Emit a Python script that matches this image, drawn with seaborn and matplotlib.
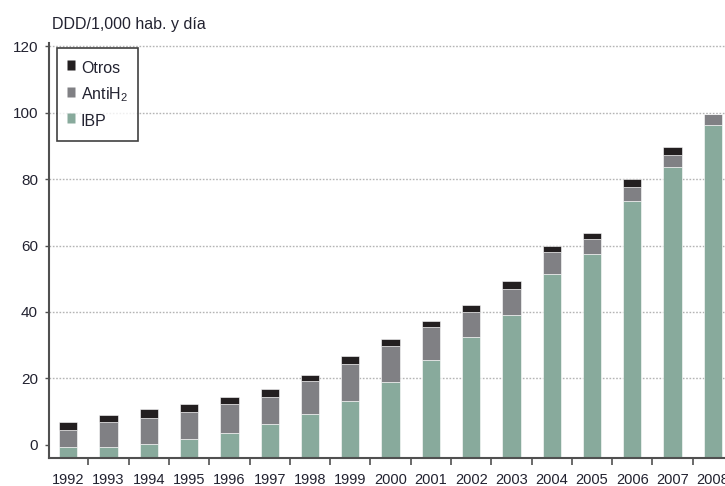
import matplotlib
matplotlib.use("Agg")
import matplotlib.pyplot as plt
from matplotlib.lines import Line2D
from matplotlib.ticker import FixedLocator
import seaborn as sns
import pandas as pd
import numpy as np

# ---- data (segment heights per year) ----
years = [str(y) for y in range(1992, 2009)]
ibp = [3.2, 3.2, 4.2, 5.6, 7.4, 10.2, 13.4, 17.2, 22.8, 29.4, 36.3, 43.2,
       55.3, 61.3, 77.5, 87.8, 100.2]
antih2 = [5.2, 7.5, 7.9, 8.4, 8.9, 8.3, 9.9, 11.2, 11.0, 10.1, 7.8, 7.8,
          6.8, 4.6, 4.1, 3.6, 3.3]
otros = [2.3, 2.4, 2.8, 2.3, 2.2, 2.4, 1.8, 2.2, 1.9, 1.9, 1.9, 2.3,
         1.9, 1.9, 2.5, 2.4, 0.0]
y_ticks = [0, 20, 40, 60, 80, 100, 120]
series_labels = ["Otros", r"AntiH$_\mathregular{2}$", "IBP"]

# ---- style ----
sns.set_style("white")
plt.rcParams["font.family"] = ["Liberation Sans", "DejaVu Sans"]
plt.rcParams["mathtext.fontset"] = "custom"
plt.rcParams["mathtext.rm"] = "Liberation Sans"
plt.rcParams["mathtext.it"] = "Liberation Sans:italic"
plt.rcParams["mathtext.bf"] = "Liberation Sans:bold"

C_IBP = "#88aa9c"
C_ANTI = "#808084"
C_OTROS = "#231f20"
TXT = "#222230"
SPINE = "#505050"
YMIN, YMAX = -4.0, 121.0
BAR_W = 0.454

df = pd.DataFrame({"year": years, "IBP": ibp, "AntiH2": antih2, "Otros": otros})
df["b_ibp"] = YMIN
df["b_anti"] = YMIN + df["IBP"]
df["b_otros"] = df["b_anti"] + df["AntiH2"]

fig = plt.figure(figsize=(7.25, 4.86), dpi=100)
ax = fig.add_axes([49 / 725, 28 / 486, 676 / 725, 415 / 486])

common = dict(x="year", order=years, errorbar=None, width=BAR_W, ax=ax,
              edgecolor="white", linewidth=0.4)
sns.barplot(data=df, y="IBP", color=C_IBP, bottom=df["b_ibp"].to_numpy(),
            saturation=1, **common)
sns.barplot(data=df, y="AntiH2", color=C_ANTI, bottom=df["b_anti"].to_numpy(),
            saturation=1, **common)
sns.barplot(data=df, y="Otros", color=C_OTROS, bottom=df["b_otros"].to_numpy(),
            saturation=1, **common)

ax.set_ylim(YMIN, YMAX)
ax.set_xlim(-0.476, 16.3)
ax.set_xlabel("")
ax.set_ylabel("")

# y axis
ax.set_yticks(y_ticks)
ax.set_yticklabels([str(t) for t in y_ticks])
ax.tick_params(axis="y", which="major", direction="out", length=3, width=1,
               color=SPINE, pad=5, labelsize=11, labelcolor=TXT, left=True)

# x axis: labels under bars, tick marks between bars
ax.tick_params(axis="x", which="major", length=0, pad=10.5, labelsize=10.5,
               labelcolor=TXT, bottom=True)
ax.xaxis.set_minor_locator(FixedLocator(np.arange(0.5, 16.5, 1.0)))
ax.tick_params(axis="x", which="minor", direction="out", length=5, width=1.2,
               color=SPINE, bottom=True)

# grid
ax.set_axisbelow(True)
ax.yaxis.grid(True, color="#b4b4b4", linestyle=(0, (1.2, 1.2)), linewidth=1.0)
ax.xaxis.grid(False)
for t, gl in zip(y_ticks, ax.get_ygridlines()):
    if t == 0:
        gl.set_visible(False)

for s in ["top", "right"]:
    ax.spines[s].set_visible(False)
for s in ["left", "bottom"]:
    ax.spines[s].set_color(SPINE)
    ax.spines[s].set_linewidth(1.5)

# legend (small rectangular swatches)
rect = [(-0.4, -0.5), (0.4, -0.5), (0.4, 0.5), (-0.4, 0.5), (-0.4, -0.5)]
handles = [Line2D([], [], linestyle="none", marker=rect, markersize=7.5,
                  markerfacecolor=c, markeredgecolor="none")
           for c in (C_OTROS, C_ANTI, C_IBP)]
leg = ax.legend(handles, series_labels, loc="upper left",
                bbox_to_anchor=(0.0114, 0.9887), borderaxespad=0,
                fontsize=11.5, frameon=True, fancybox=False,
                handlelength=0.6, handleheight=1.65, handletextpad=0.3,
                labelspacing=0.34, borderpad=0.62)
leg.get_frame().set_edgecolor("#111111")
leg.get_frame().set_linewidth(1.2)
leg.get_frame().set_facecolor("white")
for txt in leg.get_texts():
    txt.set_color(TXT)

fig.text(52 / 725, 1 - 25 / 486, "DDD/1,000 hab. y día", ha="left",
         va="center", fontsize=11.5, color=TXT)

fig.savefig("out.png", dpi=100)
